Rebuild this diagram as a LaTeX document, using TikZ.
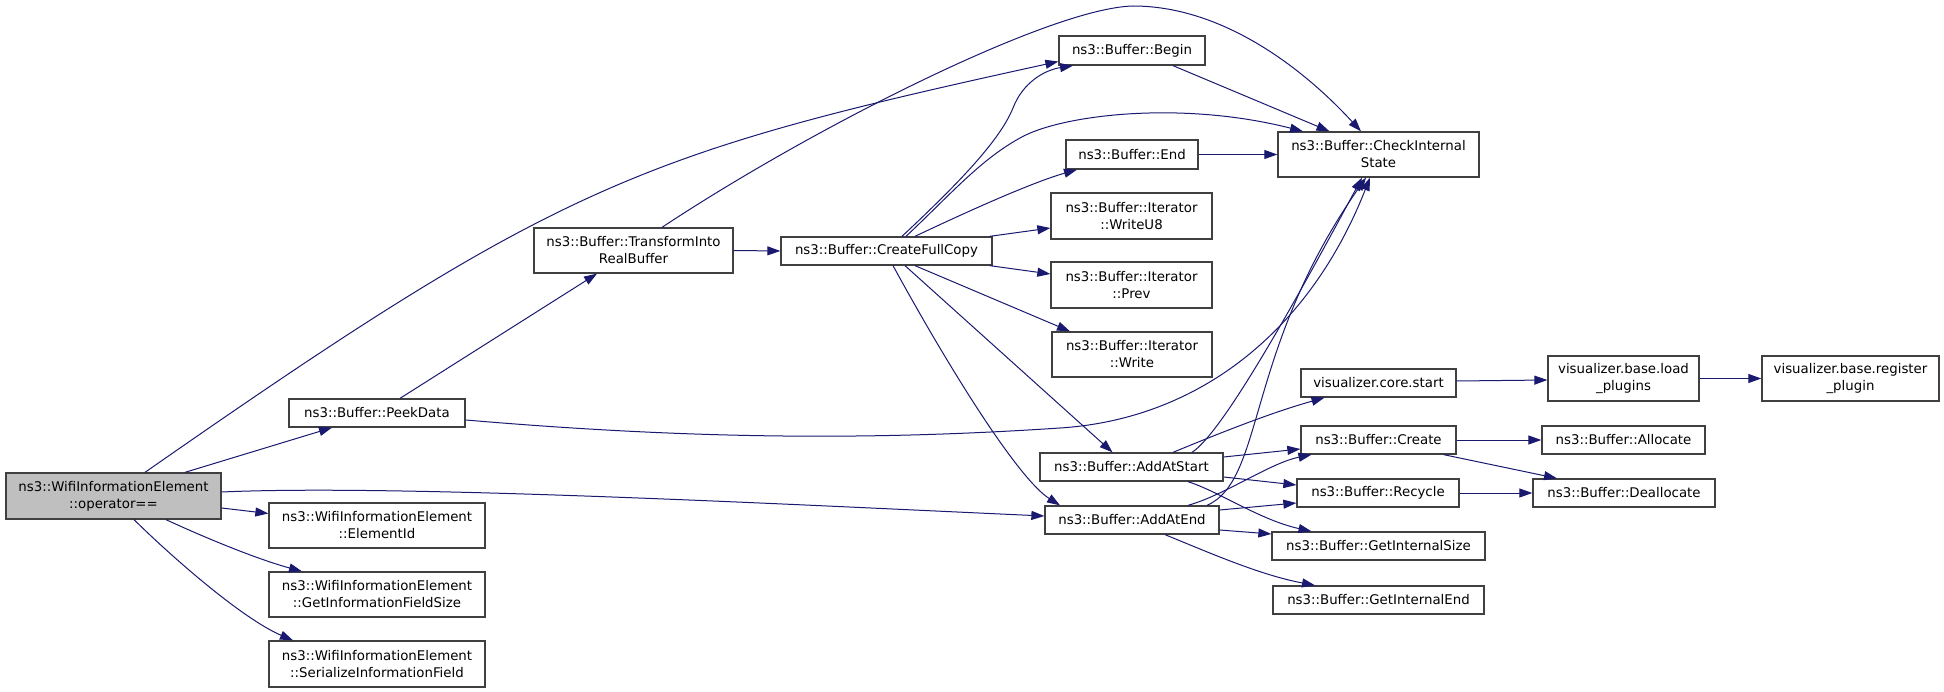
\documentclass[tikz,border=0pt]{standalone}
\usepackage{fontspec}
\usepackage{tikz}
\usetikzlibrary{
    positioning,
    arrows.meta,
    calc
}
\newfontfamily\graphfont{DejaVu Sans}
\definecolor{edgeBlue}{RGB}{25, 25, 112}
\definecolor{boxGrey}{RGB}{64, 64, 64}
\definecolor{rootGrey}{RGB}{191, 191, 191}

\tikzset{
    fn/.style={draw=boxGrey, line width=1.3pt, fill=white, inner sep=0pt,
        align=center, font={\graphfont\fontsize{13.33}{17}\selectfont}},
    rootfn/.style={fn, fill=rootGrey},
    call/.style={draw=edgeBlue, line width=1pt,
        -{Triangle[length=13pt, width=9pt]}}
}

\begin{document}
\begin{tikzpicture}[x=1pt, y=-1pt]
        \useasboundingbox (0,0) rectangle (1944,692);

        % caller and its direct callees
        \node[rootfn, minimum width=215pt, minimum height=46pt] (op) at (113.5,496) {ns3::WifiInformationElement\\::operator=={}};
        \node[fn, minimum width=176pt, minimum height=28pt] (peek) at (377,413) {ns3::Buffer::PeekData};
        \node[fn, minimum width=216pt, minimum height=45pt] (elemid) at (377,525.5) {ns3::WifiInformationElement\\::ElementId};
        \node[fn, minimum width=216pt, minimum height=45pt] (getinfo) at (377,594.5) {ns3::WifiInformationElement\\::GetInformationFieldSize};
        \node[fn, minimum width=216pt, minimum height=46pt] (serial) at (377,664) {ns3::WifiInformationElement\\::SerializeInformationField};
        \node[fn, minimum width=199pt, minimum height=45pt] (tirb) at (633.5,250.5) {ns3::Buffer::TransformInto\\RealBuffer};
        \node[fn, minimum width=211pt, minimum height=28pt] (cfc) at (886.5,251) {ns3::Buffer::CreateFullCopy};

        % buffer column
        \node[fn, minimum width=146pt, minimum height=29pt] (begin) at (1132,50.5) {ns3::Buffer::Begin};
        \node[fn, minimum width=132pt, minimum height=29pt] (endn) at (1132,154.5) {ns3::Buffer::End};
        \node[fn, minimum width=161pt, minimum height=46pt] (writeu8) at (1131.5,216) {ns3::Buffer::Iterator\\::WriteU8};
        \node[fn, minimum width=161pt, minimum height=46pt] (prev) at (1131.5,285) {ns3::Buffer::Iterator\\::Prev};
        \node[fn, minimum width=160pt, minimum height=45pt] (write) at (1132,354.5) {ns3::Buffer::Iterator\\::Write};
        \node[fn, minimum width=183pt, minimum height=28pt] (addstart) at (1131.5,467) {ns3::Buffer::AddAtStart};
        \node[fn, minimum width=174pt, minimum height=28pt] (addend) at (1132,520) {ns3::Buffer::AddAtEnd};

        % right columns
        \node[fn, minimum width=201pt, minimum height=45pt] (cis) at (1378.5,154.5) {ns3::Buffer::CheckInternal\\State};
        \node[fn, minimum width=155pt, minimum height=28pt] (corestart) at (1378.5,383) {visualizer.core.start};
        \node[fn, minimum width=155pt, minimum height=28pt] (create) at (1378.5,440) {ns3::Buffer::Create};
        \node[fn, minimum width=162pt, minimum height=28pt] (recycle) at (1378,493) {ns3::Buffer::Recycle};
        \node[fn, minimum width=213pt, minimum height=28pt] (gis) at (1378.5,546) {ns3::Buffer::GetInternalSize};
        \node[fn, minimum width=211pt, minimum height=28pt] (gie) at (1378.5,600) {ns3::Buffer::GetInternalEnd};
        \node[fn, minimum width=151pt, minimum height=45pt] (loadplug) at (1623.5,378.5) {visualizer.base.load\\\_plugins};
        \node[fn, minimum width=177pt, minimum height=45pt] (regplug) at (1850.5,378.5) {visualizer.base.register\\\_plugin};
        \node[fn, minimum width=163pt, minimum height=28pt] (alloc) at (1623.5,440) {ns3::Buffer::Allocate};
        \node[fn, minimum width=182pt, minimum height=28pt] (dealloc) at (1624,493) {ns3::Buffer::Deallocate};

        \coordinate (tirbtop) at (1133,6);
        \coordinate (peekdip) at (1060,428);
        \coordinate (cfcbend) at (1013,108);
        \coordinate (cfcarc) at (1020,138);

        % edges from operator==
        \draw[call] ($(op.north)+(31.5,0)$) .. controls (560,183) and (640,153) .. ($(begin.west)+(0,11)$);
        \draw[call] ($(op.north)+(71.5,0)$) -- ($(peek.south)+(-45,0)$);
        \draw[call] ($(op.east)+(0,-4)$) .. controls (400,484) and (800,505) .. ($(addend.west)+(0,-4)$);
        \draw[call] ($(op.east)+(0,12)$) -- ($(elemid.west)+(0,-12)$);
        \draw[call] ($(op.south)+(52.5,0)$) .. controls (210,540) and (260,560) .. ($(getinfo.north)+(-75,0)$);
        \draw[call] ($(op.south)+(20.5,0)$) .. controls (174,559) and (243,619) .. ($(serial.north)+(-84,0)$);

        % PeekData and TransformIntoRealBuffer
        \draw[call] ($(peek.north)+(23,0)$) -- ($(tirb.south)+(-36.5,0)$);
        \draw[call] ($(peek.east)+(0,7)$) .. controls (700,440) and (880,440) .. (peekdip)
            .. controls (1200,419) and (1310,330) .. ($(cis.south)+(-8.5,0)$);
        \draw[call] ($(tirb.north)+(28.5,0)$) .. controls (812,128) and (1050,8) .. (tirbtop)
            .. controls (1220,6) and (1300,65) .. ($(cis.north)+(-17.5,0)$);
        \draw[call] (tirb.east) -- (cfc.west);

        % CreateFullCopy
        \draw[call] ($(cfc.north)+(15.5,0)$) .. controls (960,182) and (1000,140) .. (cfcbend)
            .. controls (1023,82) and (1045,70) .. ($(begin.south)+(-59,0)$);
        \draw[call] ($(cfc.north)+(19.5,0)$) .. controls (950,195) and (980,160) .. (cfcarc)
            .. controls (1060,115) and (1180,100) .. ($(cis.north)+(-75.5,0)$);
        \draw[call] ($(cfc.north)+(28.5,0)$) .. controls (960,215) and (1030,183) .. ($(endn.south)+(-55,0)$);
        \draw[call] ($(cfc.north east)+(-3,0)$) -- ($(writeu8.west)+(0,12)$);
        \draw[call] ($(cfc.south east)+(-3,0)$) -- ($(prev.west)+(0,-11)$);
        \draw[call] ($(cfc.south)+(28.5,0)$) -- ($(write.north)+(-62,0)$);
        \draw[call] ($(cfc.south)+(18.5,0)$) -- ($(addstart.north)+(-19,0)$);
        \draw[call] ($(cfc.south)+(6.5,0)$) .. controls (955,379) and (1020,480) .. ($(addend.north)+(-72,0)$);

        \draw[call] ($(begin.south)+(41,0)$) -- ($(cis.north)+(-49,0)$);
        \draw[call] (endn.east) -- (cis.west);

        % AddAtStart
        \draw[call] ($(addstart.north)+(60.5,0)$) .. controls (1222,433) and (1292,308) .. ($(cis.south)+(-16.5,0)$);
        \draw[call] ($(addstart.north)+(41.5,0)$) .. controls (1220,433) and (1270,413) .. ($(corestart.south)+(-54,0)$);
        \draw[call] ($(addstart.east)+(0,-10)$) -- ($(create.west)+(0,9)$);
        \draw[call] ($(addstart.east)+(0,10)$) -- ($(recycle.west)+(0,-8)$);
        \draw[call] ($(addstart.south)+(56.5,0)$) .. controls (1220,492) and (1260,520) .. ($(gis.north)+(-67,0)$);

        % AddAtEnd
        \draw[call] ($(addend.north)+(75,0)$) .. controls (1265,480) and (1245,350) .. ($(cis.south)+(-12.5,0)$);
        \draw[call] ($(addend.north)+(56,0)$) .. controls (1225,495) and (1270,463) .. ($(create.south)+(-67,0)$);
        \draw[call] ($(addend.east)+(0,-10)$) -- ($(recycle.west)+(0,10)$);
        \draw[call] ($(addend.east)+(0,10)$) -- ($(gis.west)+(0,-12)$);
        \draw[call] ($(addend.south)+(33,0)$) .. controls (1210,553) and (1260,575) .. ($(gie.north)+(-63.5,0)$);

        % right side
        \draw[call] (create.east) -- (alloc.west);
        \draw[call] ($(create.south east)+(-13,0)$) -- ($(dealloc.north)+(-67,0)$);
        \draw[call] (recycle.east) -- (dealloc.west);
        \draw[call] ($(corestart.east)+(0,-2)$) -- ($(loadplug.west)+(0,1.5)$);
        \draw[call] (loadplug.east) -- (regplug.west);
    \end{tikzpicture}
\end{document}
